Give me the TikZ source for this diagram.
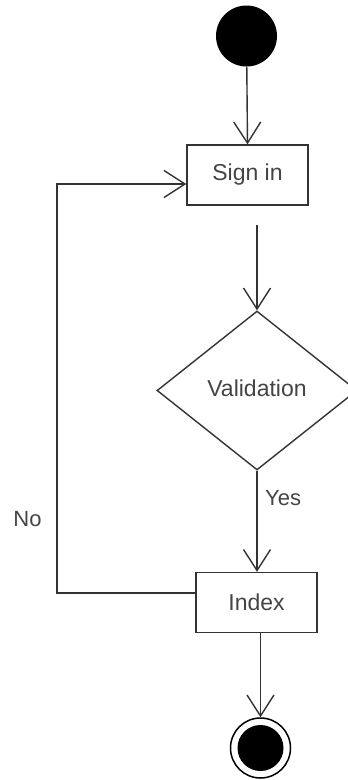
\documentclass[tikz,border=0pt]{standalone}
\usepackage{fontspec}
\setmainfont{Liberation Sans}
\usetikzlibrary{shapes.geometric,arrows.meta}
\definecolor{ink}{HTML}{333333}
\definecolor{txt}{HTML}{444444}
\tikzset{
  flow/.style={draw=ink, line width=1.4pt, -{Straight Barb[length=21pt,width=27pt,line width=1.4pt]}},
  actbox/.style={draw=ink, line width=1.4pt, rectangle, minimum width=121pt, minimum height=60pt, inner sep=0pt, font=\fontsize{23}{27}\selectfont, text=txt},
  decide/.style={draw=ink, line width=1.4pt, diamond, minimum width=200pt, minimum height=159pt, inner sep=0pt, font=\fontsize{23}{27}\selectfont, text=txt},
  lbl/.style={font=\fontsize{22}{26}\selectfont, text=txt, inner sep=0pt},
}
\begin{document}
\begin{tikzpicture}[x=1pt,y=-1pt]
  \useasboundingbox (0,0) rectangle (348,780);
  \clip (0,0) rectangle (348,780);

  % initial and final states
  \node[circle, fill=black, minimum size=61pt, inner sep=0pt] (start) at (246.5,36) {};
  \node[circle, draw=black, line width=1.5pt, minimum size=60pt, inner sep=0pt] (finish) at (260.5,748) {};
  \node[circle, fill=black, minimum size=46pt, inner sep=0pt] (finishcore) at (finish.center) {};

  % activities
  \node[actbox] (signin) at (247.5,175) {Sign in};
  \node[decide] (valid) at (257,390.5) {\raisebox{4pt}{Validation}};
  \node[actbox] (index) at (256.5,602.5) {Index};

  % flows
  \draw[flow] (start) -- (signin.north);
  \coordinate (gapstart) at (257,225);
  \draw[flow] (gapstart) -- (valid.north);
  \draw[flow] (valid.south) -- (valid.south |- index.north);
  \node[lbl, anchor=west] (yes) at (265,498) {Yes};
  \draw[flow] (finish.north |- index.south) -- (finish.north);
  \coordinate (loopcorner) at (57,593);
  \draw[flow] ([yshift=9.5pt]index.west) -- (loopcorner) |- ([yshift=-9pt]signin.west);
  \node[lbl] (no) at (27.5,519) {No};
\end{tikzpicture}
\end{document}
